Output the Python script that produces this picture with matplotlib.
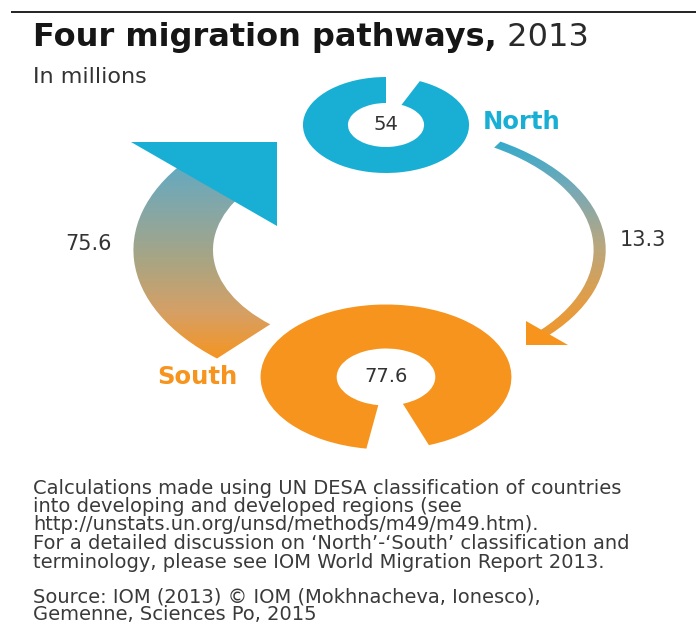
import numpy as np
import matplotlib
matplotlib.use("Agg")
import matplotlib.pyplot as plt
from matplotlib.patches import Wedge, Polygon
from matplotlib.colors import LinearSegmentedColormap

# ---------------- data ----------------
regions = ["North", "South"]
within_region = [54, 77.6]            # North-North, South-South (millions)
flow_from_to = [("North", "South"), ("South", "North")]
between_region = [13.3, 75.6]         # North->South, South->North (millions)

title_bold = "Four migration pathways,"
title_year = "2013"
subtitle = "In millions"
notes = [
    "Calculations made using UN DESA classification of countries",
    "into developing and developed regions (see",
    "http://unstats.un.org/unsd/methods/m49/m49.htm).",
    "For a detailed discussion on \u2018North\u2019-\u2018South\u2019 classification and",
    "terminology, please see IOM World Migration Report 2013.",
]
source = [
    "Source: IOM (2013) \u00a9 IOM (Mokhnacheva, Ionesco),",
    "Gemenne, Sciences Po, 2015",
]

# ---------------- style / layout ----------------
W, H = 696, 623
S = 1.73                      # horizontal stretch of the graphic
NORTH_C = "#19AFD5"
SOUTH_C = "#F7941D"
TEXT_C = "#333333"

fig = plt.figure(figsize=(W / 100, H / 100), dpi=100)
ax = fig.add_axes([0, 0, 1, 1])
ax.set_xlim(0, W / S)
ax.set_ylim(0, H)
ax.axis("off")


def X(px):
    return px / S


def Y(py):
    return H - py


# top rule
ax.plot([X(11), X(W)], [Y(12), Y(12)], color="#111111", lw=1.3, solid_capstyle="butt")

# titles
t = ax.text(X(33), Y(46), title_bold, fontsize=23, fontweight="bold",
            color="#161616", ha="left", va="baseline")
ax.annotate(" " + title_year, xy=(1, 0), xycoords=t, fontsize=23,
            color="#2a2a2a", ha="left", va="bottom")
ax.text(X(33), Y(77), subtitle, fontsize=16, color=TEXT_C, ha="left", va="center")

# ---------------- donuts (within-region stocks) ----------------
donut_layout = {
    "North": dict(center=(X(386), Y(125)), r=48, width=26, gap=(66, 90),
                  color=NORTH_C, label_xy=(X(483), Y(122)), ha="left"),
    "South": dict(center=(X(386), Y(377)), r=72.5, width=44, gap=(261, 290),
                  color=SOUTH_C, label_xy=(X(197), Y(377)), ha="center"),
}
for name, val in zip(regions, within_region):
    d = donut_layout[name]
    g0, g1 = d["gap"]
    ax.add_patch(Wedge(d["center"], d["r"], g1, g0 + 360, width=d["width"],
                       facecolor=d["color"], edgecolor="none", zorder=3))
    ax.text(d["center"][0], d["center"][1], f"{val:g}", fontsize=14,
            color=TEXT_C, ha="center", va="center", zorder=4)
    ax.text(d["label_xy"][0], d["label_xy"][1], name, fontsize=17.5,
            fontweight="bold", color=d["color"], ha=d["ha"], va="center")

# ---------------- flows (between regions) ----------------
arc_center = (X(386), Y(250))
flow_layout = {
    ("North", "South"): dict(r=127, width=7, theta=(-45, 58.6), head_ang=-41.7,
                             head_r=124.7, head_h=17.3, tip_dir=225,
                             head_c=SOUTH_C,
                             stops=[SOUTH_C, "#E39D45", "#BBA77C", "#7AA9B5", "#2BABCF"],
                             ext=(Y(360), Y(135)), label_xy=(X(643), Y(240))),
    ("South", "North"): dict(r=146, width=46, theta=(140, 228), head_ang=148,
                             head_r=124, head_h=59.4, tip_dir=45,
                             head_c=NORTH_C,
                             stops=[SOUTH_C, "#D5A066", "#A9A583", "#86A7A6", "#5FAAC4"],
                             ext=(Y(362), Y(160)), label_xy=(X(88), Y(244))),
}


def arrowhead(center, r_mid, ang_deg, h, tip_deg):
    cx, cy = center
    a = np.radians(ang_deg)
    mx, my = cx + r_mid * np.cos(a), cy + r_mid * np.sin(a)
    tr = np.radians(tip_deg)
    tx, ty = mx + h * np.cos(tr), my + h * np.sin(tr)
    bx, by = -np.sin(tr), np.cos(tr)
    return [(mx + h * bx, my + h * by), (tx, ty), (mx - h * bx, my - h * by)]


grad = np.linspace(0, 1, 256).reshape(-1, 1)
for key, val in zip(flow_from_to, between_region):
    f = flow_layout[key]
    band = Wedge(arc_center, f["r"], f["theta"][0], f["theta"][1],
                 width=f["width"], facecolor="none", edgecolor="none")
    ax.add_patch(band)
    cmap = LinearSegmentedColormap.from_list("g", f["stops"])
    y0, y1 = f["ext"]
    im = ax.imshow(grad, extent=[0, W / S, y0, y1], origin="lower", cmap=cmap,
                   aspect="auto", interpolation="bilinear", zorder=2)
    im.set_clip_path(band)
    ax.add_patch(Polygon(arrowhead(arc_center, f["head_r"], f["head_ang"],
                                   f["head_h"], f["tip_dir"]),
                         closed=True, facecolor=f["head_c"], edgecolor="none",
                         zorder=2.5))
    ax.text(f["label_xy"][0], f["label_xy"][1], f"{val:g}", fontsize=15,
            color=TEXT_C, ha="center", va="center")

ax.set_xlim(0, W / S)
ax.set_ylim(0, H)

# ---------------- notes ----------------
note_y = [488, 506.5, 525, 543.5, 562]
for line, py in zip(notes, note_y):
    ax.text(X(33), Y(py), line, fontsize=14, color="#3a3a3a", ha="left", va="center")
source_y = [597, 615]
for line, py in zip(source, source_y):
    ax.text(X(33), Y(py), line, fontsize=14, color="#3a3a3a", ha="left", va="center")

fig.savefig("out.png", dpi=100, facecolor="white")
